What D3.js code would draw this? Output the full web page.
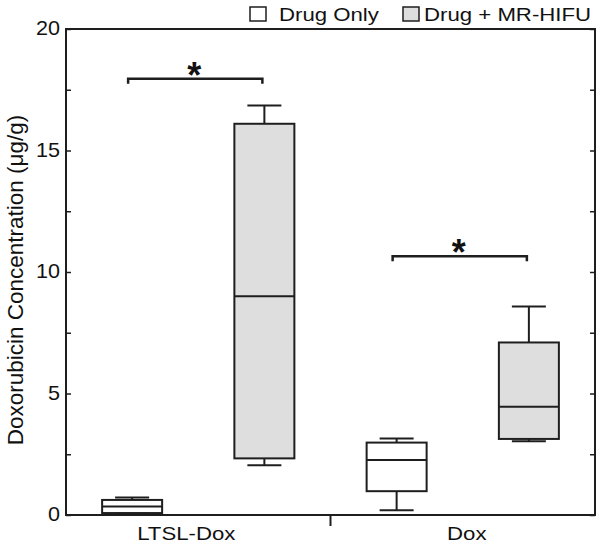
<!DOCTYPE html>
<html>
<head>
<meta charset="utf-8">
<script src="https://cdn.jsdelivr.net/npm/d3@7"></script>
<style>
  body { margin: 0; background: #fff; }
  text { font-family: "Liberation Sans", Arial, sans-serif; fill: #111; }
</style>
</head>
<body>
<svg id="chart" width="600" height="544"></svg>
<script>
// data
var groups = ["LTSL-Dox", "Dox"];
var treatments = ["Drug Only", "Drug + MR-HIFU"];
var fills = ["#ffffff", "#dedede"];

// [group, treatment, min, q1, median, q3, max]
var boxes = [
  ["LTSL-Dox", "Drug Only",      0.05, 0.08, 0.35, 0.62, 0.72],
  ["LTSL-Dox", "Drug + MR-HIFU", 2.05, 2.33, 9.0, 16.1, 16.85],
  ["Dox",      "Drug Only",      0.2,  0.98, 2.26, 2.98, 3.15],
  ["Dox",      "Drug + MR-HIFU", 3.04, 3.13, 4.45, 7.1, 8.58]
];

// significance brackets: [group, y value]
var brackets = [["LTSL-Dox", 17.95], ["Dox", 10.65]];

var yTicks = [0, 5, 10, 15, 20];
var yMinor = [2.5, 7.5, 12.5, 17.5];

var svg = d3.select("#chart");
var pLeft = 66, pRight = 595, pTop = 29, pBottom = 515;
var ink = "#1e1e1e";

var y = d3.scaleLinear().domain([0, 20]).range([pBottom, pTop]);
var x = d3.scaleBand().domain(groups).range([pLeft, pRight]);
var sub = d3.scaleBand().domain(treatments).range([0, x.bandwidth()]);
var boxW = 60, capW = 34;

function cx(g, t) { return x(g) + sub(t) + sub.bandwidth() / 2; }
// the source font is drawn a bit wider than Liberation Sans
function wide(tx, ty, k) { return "translate(" + tx + "," + ty + ") scale(" + k + ",1)"; }

// frame
svg.append("rect")
  .attr("x", pLeft).attr("y", pTop)
  .attr("width", pRight - pLeft).attr("height", pBottom - pTop)
  .attr("fill", "none").attr("stroke", ink).attr("stroke-width", 2);

// left axis, ticks pointing in
var yAxis = svg.append("g").attr("transform", "translate(" + pLeft + ",0)")
  .call(d3.axisRight(y).tickValues(yTicks.concat(yMinor)).tickSize(5).tickFormat(""));
yAxis.select(".domain").remove();
yAxis.selectAll("line").attr("stroke", ink).attr("stroke-width", 1.5);

svg.append("g").selectAll("text")
  .data(yTicks).enter().append("text")
  .attr("transform", function(d) { return wide(pLeft - 6, y(d) - 1, 1.08); })
  .attr("dy", "0.36em")
  .attr("text-anchor", "end")
  .style("font-size", "20px")
  .text(function(d) { return d; });

// right axis, ticks pointing in
var rAxis = svg.append("g").attr("transform", "translate(" + pRight + ",0)")
  .call(d3.axisLeft(y).tickValues(yTicks.concat(yMinor)).tickSize(5).tickFormat(""));
rAxis.select(".domain").remove();
rAxis.selectAll("line").attr("stroke", ink).attr("stroke-width", 1.5);

// bottom: separator tick between groups
svg.append("line")
  .attr("x1", x("Dox")).attr("x2", x("Dox"))
  .attr("y1", pBottom).attr("y2", pBottom + 11)
  .attr("stroke", ink).attr("stroke-width", 2);

var labelShift = [-12, 4];
svg.append("g").selectAll("text")
  .data(groups).enter().append("text")
  .attr("transform", function(d, i) {
    return wide(x(d) + x.bandwidth() / 2 + labelShift[i], pBottom + 25, 1.2);
  })
  .attr("text-anchor", "middle")
  .style("font-size", "18.5px")
  .text(function(d) { return d; });

// y title
svg.append("text")
  .attr("transform", "translate(23," + 280 + ") rotate(-90)")
  .attr("text-anchor", "middle")
  .style("font-size", "22.5px")
  .text("Doxorubicin Concentration (\u03bcg/g)");

// boxes
var b = svg.append("g").selectAll("g")
  .data(boxes).enter().append("g")
  .attr("transform", function(d) { return "translate(" + cx(d[0], d[1]) + ",0)"; });

b.append("line")
  .attr("y1", function(d) { return y(d[2]); }).attr("y2", function(d) { return y(d[6]); })
  .attr("stroke", ink).attr("stroke-width", 2);
b.append("rect")
  .attr("x", -boxW / 2).attr("width", boxW)
  .attr("y", function(d) { return y(d[5]); })
  .attr("height", function(d) { return y(d[3]) - y(d[5]); })
  .attr("fill", function(d) { return fills[treatments.indexOf(d[1])]; })
  .attr("stroke", ink).attr("stroke-width", 2);
b.append("line")
  .attr("x1", -boxW / 2).attr("x2", boxW / 2)
  .attr("y1", function(d) { return y(d[4]); }).attr("y2", function(d) { return y(d[4]); })
  .attr("stroke", ink).attr("stroke-width", 2);
[2, 6].forEach(function(k) {
  b.append("line")
    .attr("x1", -capW / 2).attr("x2", capW / 2)
    .attr("y1", function(d) { return y(d[k]); }).attr("y2", function(d) { return y(d[k]); })
    .attr("stroke", ink).attr("stroke-width", 2);
});

// significance brackets
var br = svg.append("g").selectAll("g")
  .data(brackets).enter().append("g");
br.append("path")
  .attr("d", function(d) {
    var x1 = cx(d[0], treatments[0]) - 4, x2 = cx(d[0], treatments[1]) - 2, yy = y(d[1]);
    return "M" + x1 + "," + (yy + 5) + "V" + yy + "H" + x2 + "V" + (yy + 5);
  })
  .attr("fill", "none").attr("stroke", ink).attr("stroke-width", 2.5);
br.append("text")
  .attr("x", function(d) { return (cx(d[0], treatments[0]) + cx(d[0], treatments[1])) / 2 - 4; })
  .attr("y", function(d) { return y(d[1]) + 9; })
  .attr("text-anchor", "middle")
  .style("font-size", "36px")
  .style("font-weight", "bold")
  .text("*");

// legend
var legX = [250, 403];
var leg = svg.append("g").selectAll("g")
  .data(treatments).enter().append("g")
  .attr("transform", function(d, i) { return "translate(" + legX[i] + ",7)"; });
leg.append("rect")
  .attr("width", 16).attr("height", 14)
  .attr("fill", function(d, i) { return fills[i]; })
  .attr("stroke", ink).attr("stroke-width", 1.5);
leg.append("text")
  .attr("transform", function(d, i) { return wide(i ? 21 : 29, 14, 1.2); })
  .style("font-size", "18.5px")
  .text(function(d) { return d; });
</script>
</body>
</html>
